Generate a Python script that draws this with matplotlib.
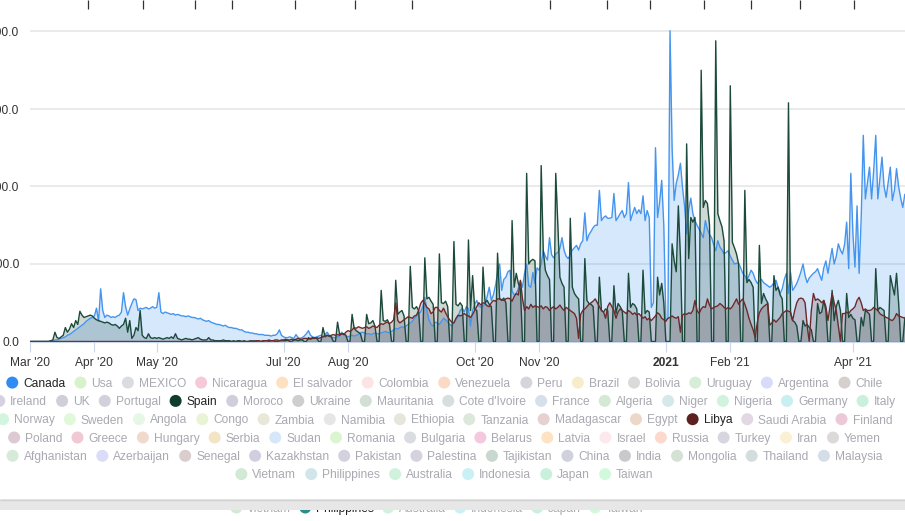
import matplotlib
matplotlib.use("Agg")
import matplotlib.pyplot as plt
import matplotlib.dates as mdates
import pandas as pd
from matplotlib.patches import Circle, Rectangle

plt.rcParams['font.family'] = ['Liberation Sans', 'DejaVu Sans']

# daily values from 2020-03-01, one row per week (Sun..Sat)
start_date = '2020-03-01'

canada_weeks = [
    [0, 0, 0, 0, 0, 0, 0], [0, 0, 0, 1, 1, 2, 2], [3, 4, 5, 6, 8, 9, 11],
    [13, 15, 17, 19, 21, 23, 26], [28, 30, 31, 33, 43, 26, 68], [40, 31, 34, 33, 31, 32, 31],
    [33, 34, 38, 63, 45, 34, 42], [49, 55, 54, 40, 43, 42, 43], [44, 42, 43, 45, 43, 44, 63],
    [38, 36, 38, 37, 36, 35, 36], [34, 35, 34, 33, 33, 32, 33], [32, 31, 31, 30, 29, 30, 28],
    [27, 26, 27, 25, 24, 23, 22], [22, 21, 20, 21, 19, 18, 18], [17, 17, 16, 15, 15, 13, 12],
    [12, 11, 11, 10, 10, 9, 9], [9, 8, 8, 8, 7, 8, 8], [10, 15, 8, 6, 5, 5, 6],
    [5, 4, 9, 5, 4, 5, 7], [10, 14, 8, 6, 5, 6, 7], [8, 6, 9, 12, 8, 6, 5],
    [5, 6, 7, 12, 9, 7, 6], [7, 8, 7, 8, 9, 11, 12], [11, 10, 10, 9, 10, 11, 10],
    [10, 11, 12, 13, 12, 11, 13], [15, 17, 16, 18, 19, 18, 20], [22, 24, 26, 30, 33, 36, 38],
    [45, 57, 40, 28, 22, 20, 25], [24, 22, 26, 30, 28, 25, 22], [20, 24, 28, 32, 40, 43, 38],
    [45, 42, 20, 40, 48, 53, 46], [44, 46, 48, 58, 70, 53, 60], [72, 88, 100, 66, 80, 83, 90],
    [92, 65, 60, 62, 68, 78, 70], [88, 100, 72, 70, 89, 75, 95], [92, 100, 117, 110, 105, 134, 112],
    [108, 113, 115, 120, 134, 118, 110], [107, 112, 118, 121, 124, 118, 126],
    [130, 166, 130, 138, 142, 147, 150], [150, 195, 156, 160, 162, 159, 159],
    [160, 191, 156, 160, 165, 169, 160], [165, 205, 156, 165, 173, 165, 170],
    [165, 188, 156, 169, 160, 44, 50], [250, 160, 180, 208, 150, 27, 30],
    [401, 250, 182, 204, 215, 230, 199], [175, 139, 170, 185, 165, 156, 150],
    [145, 140, 134, 156, 145, 138, 134], [125, 117, 130, 122, 118, 113, 115],
    [117, 110, 105, 100, 101, 101, 95], [88, 85, 79, 85, 92, 88, 80],
    [75, 78, 80, 76, 74, 72, 70], [72, 76, 79, 70, 62, 68, 80], [88, 62, 89, 66, 70, 75, 82],
    [90, 100, 85, 76, 82, 85, 88], [90, 94, 86, 79, 95, 104, 88],
    [105, 120, 100, 110, 126, 118, 113], [125, 154, 94, 217, 140, 96, 175],
    [88, 160, 266, 184, 205, 225, 184], [220, 266, 184, 210, 238, 200, 186],
    [205, 225, 182, 195, 223, 200, 185], [173, 190, 180],
]

spain_weeks = [
    [0, 0, 0, 0, 0, 0, 0], [0, 0, 0, 1, 2, 12, 5], [4, 6, 8, 18, 12, 16, 23],
    [18, 27, 22, 39, 34, 31, 32], [33, 34, 33, 30, 28, 27, 26], [25, 24, 25, 24, 22, 21, 22],
    [20, 17, 20, 22, 30, 12, 27], [4, 8, 18, 14, 40, 8, 5], [4, 10, 5, 4, 5, 4, 5],
    [4, 3, 4, 5, 4, 6, 4], [10, 4, 3, 2, 3, 4, 3], [3, 2, 3, 4, 5, 3, 2],
    [2, 2, 5, 2, 2, 1, 1], [1, 1, 2, 1, 1, 1, 0], [1, 0, 1, 1, 0, 1, 0],
    [0, 1, 0, 1, 0, 1, 0], [0, 1, 1, 0, 1, 1, 0], [0, 1, 1, 1, 1, 2, 0],
    [0, 2, 2, 1, 2, 2, 0], [0, 5, 3, 4, 5, 4, 0], [0, 18, 6, 8, 7, 6, 0],
    [0, 25, 9, 10, 10, 8, 0], [0, 35, 17, 14, 12, 10, 0], [0, 35, 23, 24, 27, 20, 0],
    [0, 66, 27, 26, 28, 22, 0], [0, 79, 35, 38, 40, 33, 0], [0, 97, 44, 42, 45, 40, 0],
    [0, 108, 55, 57, 52, 48, 0], [0, 113, 50, 49, 52, 45, 0], [0, 129, 48, 46, 50, 46, 0],
    [0, 131, 40, 85, 42, 40, 0], [0, 96, 50, 53, 48, 45, 0], [0, 114, 55, 53, 56, 50, 0],
    [0, 156, 70, 88, 75, 68, 0], [0, 217, 100, 104, 106, 104, 0], [0, 227, 117, 92, 85, 80, 0],
    [0, 217, 152, 83, 75, 70, 0], [0, 159, 70, 62, 58, 55, 0], [0, 107, 53, 49, 48, 45, 0],
    [0, 83, 40, 38, 42, 40, 0], [0, 72, 36, 49, 45, 40, 0], [0, 88, 44, 49, 47, 42, 0],
    [0, 92, 36, 40, 38, 0, 0], [0, 83, 60, 75, 50, 0, 0], [0, 126, 104, 90, 175, 110, 0],
    [0, 255, 107, 160, 154, 160, 0], [0, 350, 173, 182, 178, 150, 0],
    [0, 388, 165, 156, 148, 130, 0], [0, 330, 128, 121, 113, 100, 0],
    [0, 195, 76, 80, 76, 70, 0], [0, 124, 49, 62, 55, 50, 0], [0, 85, 66, 70, 60, 55, 0],
    [0, 308, 36, 27, 25, 20, 0], [0, 27, 20, 22, 18, 15, 0], [0, 49, 36, 38, 53, 40, 0],
    [0, 66, 27, 45, 53, 40, 0], [0, 62, 31, 35, 30, 28, 0], [0, 31, 20, 40, 38, 35, 0],
    [0, 94, 40, 44, 42, 40, 0], [0, 85, 72, 60, 88, 50, 0], [0, 30, 35],
]

libya_weeks = [
    [0, 0, 0, 0, 0, 0, 0], [0, 0, 0, 0, 0, 0, 0], [0, 0, 0, 0, 0, 0, 0],
    [0, 0, 0, 0, 0, 0, 0], [0, 0, 0, 0, 0, 0, 0], [0, 0, 0, 0, 0, 0, 0],
    [0, 0, 0, 0, 0, 0, 0], [0, 0, 0, 0, 0, 0, 0], [0, 0, 0, 0, 0, 0, 0],
    [0, 0, 0, 0, 0, 0, 0], [0, 0, 0, 0, 0, 0, 0], [0, 0, 0, 0, 0, 0, 0],
    [0, 0, 0, 0, 0, 0, 0], [0, 0, 0, 0, 0, 0, 0], [0, 0, 0, 0, 0, 0, 0],
    [0, 0, 1, 0, 1, 1, 0], [1, 1, 1, 2, 1, 1, 2], [2, 1, 2, 2, 3, 2, 2],
    [3, 2, 3, 4, 3, 3, 4], [4, 3, 4, 5, 4, 5, 4], [5, 6, 7, 8, 7, 8, 9],
    [8, 9, 8, 10, 9, 12, 14], [13, 15, 18, 17, 19, 18, 17], [18, 19, 17, 18, 20, 19, 18],
    [21, 23, 22, 24, 25, 23, 25], [28, 50, 27, 24, 26, 28, 30], [32, 31, 30, 33, 34, 40, 49],
    [53, 49, 44, 42, 36, 38, 44], [44, 40, 38, 43, 37, 32, 28], [25, 24, 30, 34, 33, 34, 36],
    [34, 33, 31, 35, 40, 45, 50], [47, 50, 49, 46, 45, 50, 53], [52, 55, 55, 54, 53, 55, 56],
    [55, 52, 58, 62, 60, 79, 55], [40, 45, 42, 48, 44, 46, 45], [44, 46, 42, 45, 44, 40, 43],
    [45, 42, 44, 47, 43, 40, 44], [42, 40, 38, 36, 30, 4, 35], [40, 42, 45, 48, 50, 52, 55],
    [50, 45, 40, 38, 30, 45, 50], [45, 40, 30, 38, 42, 40, 38], [36, 40, 38, 35, 37, 34, 36],
    [33, 30, 32, 28, 30, 27, 30], [33, 37, 35, 30, 28, 26, 30], [31, 33, 31, 30, 32, 12, 34],
    [36, 35, 37, 36, 40, 53, 40], [36, 42, 45, 44, 55, 47, 42], [44, 45, 46, 49, 47, 44, 42],
    [44, 42, 45, 50, 55, 48, 52], [55, 48, 40, 30, 22, 15, 5], [25, 37, 42, 45, 47, 49, 21],
    [24, 28, 25, 28, 31, 36, 38], [40, 39, 38, 27, 40, 50, 55], [56, 55, 50, 20, 0, 40, 62],
    [53, 55, 53, 50, 53, 45, 27], [45, 62, 50, 40, 20, 0, 36], [36, 38, 36, 40, 42, 45, 53],
    [57, 50, 40, 42, 40, 40, 41], [44, 42, 40, 36, 34, 33, 31], [30, 28, 27, 30, 36, 33, 32],
    [31, 30, 32],
]

tick_dates = ['2020-03-01', '2020-04-01', '2020-05-01', '2020-07-01', '2020-08-01',
              '2020-10-01', '2020-11-01', '2021-01-01', '2021-02-01', '2021-04-01']
tick_labels = ["Mar '20", "Apr '20", "May '20", "Jul '20", "Aug '20",
               "Oct '20", "Nov '20", "2021", "Feb '21", "Apr '21"]
y_ticks = [0, 100, 200, 300, 400]

legend_rows = [
    ['Canada', 'Usa', 'MEXICO', 'Nicaragua', 'El salvador', 'Colombia', 'Venezuela', 'Peru',
     'Brazil', 'Bolivia', 'Uruguay', 'Argentina', 'Chile'],
    ['Ireland', 'UK', 'Portugal', 'Spain', 'Moroco', 'Ukraine', 'Mauritania', "Cote d'Ivoire",
     'France', 'Algeria', 'Niger', 'Nigeria', 'Germany', 'Italy'],
    ['Norway', 'Sweden', 'Angola', 'Congo', 'Zambia', 'Namibia', 'Ethiopia', 'Tanzania',
     'Madagascar', 'Egypt', 'Libya', 'Saudi Arabia', 'Finland'],
    ['Poland', 'Greece', 'Hungary', 'Serbia', 'Sudan', 'Romania', 'Bulgaria', 'Belarus',
     'Latvia', 'Israel', 'Russia', 'Turkey', 'Iran', 'Yemen'],
    ['Afghanistan', 'Azerbaijan', 'Senegal', 'Kazakhstan', 'Pakistan', 'Palestina',
     'Tajikistan', 'China', 'India', 'Mongolia', 'Thailand', 'Malaysia'],
    ['Vietnam', 'Philippines', 'Australia', 'Indonesia', 'Japan', 'Taiwan'],
]
ghost_row = ['Vietnam', 'Philippines', 'Australia', 'Indonesia', 'Japan', 'Taiwan']

series_colors = {'Canada': '#2f8cf2', 'Spain': '#0e3d2e', 'Libya': '#5c2020'}
line_colors = {'Canada': '#4595ee', 'Spain': '#1b4a3b', 'Libya': '#6c2b2b'}
swatch = {
    'Usa': '#d8f2cc', 'MEXICO': '#d9dde2', 'Nicaragua': '#f6c9d8', 'El salvador': '#fde1c0',
    'Colombia': '#fbe4e4', 'Venezuela': '#fcd9c5', 'Peru': '#d7d4de', 'Brazil': '#f8edcb',
    'Bolivia': '#dcd9da', 'Uruguay': '#d6eed5', 'Argentina': '#dadafb', 'Chile': '#d7cece',
    'Ireland': '#d4d1e1', 'UK': '#d0ced9', 'Portugal': '#d3d0dc', 'Moroco': '#d0ceda',
    'Ukraine': '#cecece', 'Mauritania': '#d3dfd6', "Cote d'Ivoire": '#d6dfde', 'France': '#d6e0eb',
    'Algeria': '#d3e9d3', 'Niger': '#d5e8ea', 'Nigeria': '#d1f3dd', 'Germany': '#c9f0f0',
    'Italy': '#c9f0dd', 'Norway': '#d1f5dd', 'Sweden': '#e0f9d9', 'Angola': '#e6f7e6',
    'Congo': '#e9f3d6', 'Zambia': '#e8e8d9', 'Namibia': '#e6e6e6', 'Ethiopia': '#e6e6dd',
    'Tanzania': '#dde8dd', 'Madagascar': '#e6d0d0', 'Egypt': '#ecd7c9', 'Saudi Arabia': '#e3d7e3',
    'Finland': '#ecc9d7', 'Poland': '#dcc9d3', 'Greece': '#f0c9d3', 'Hungary': '#f0d9cd',
    'Serbia': '#f3e4c4', 'Sudan': '#d6e7fa', 'Romania': '#dcf5d1', 'Bulgaria': '#d9dde1',
    'Belarus': '#f5c9dd', 'Latvia': '#fde3c4', 'Israel': '#fde9ed', 'Russia': '#fcd9cd',
    'Turkey': '#d7d5df', 'Iran': '#faf0d3', 'Yemen': '#ddd9d9', 'Afghanistan': '#d6ead8',
    'Azerbaijan': '#dbdbfa', 'Senegal': '#d9cdcd', 'Kazakhstan': '#d1cee1', 'Pakistan': '#d3d1dd',
    'Palestina': '#d5d1dd', 'Tajikistan': '#c9d7d1', 'China': '#d1d1dd', 'India': '#c9c9cd',
    'Mongolia': '#d5e1d5', 'Thailand': '#d3dddd', 'Malaysia': '#d5dde9', 'Vietnam': '#d1e9d5',
    'Philippines': '#d0e6e9', 'Australia': '#d0f2dd', 'Indonesia': '#c9f0f5', 'Japan': '#c9f0dd',
    'Taiwan': '#d1fadd',
}

canada = [v for w in canada_weeks for v in w]
spain = [v for w in spain_weeks for v in w]
libya = [v for w in libya_weeks for v in w]

W, H = 905, 521
fig = plt.figure(figsize=(W / 100, H / 100), dpi=100)

x_left = 30          # plot left edge, px
y_zero = 341.5       # zero line, px from top
px_per_day = 2.078
px_per_unit = 0.775

ax = fig.add_axes([x_left / W, (H - y_zero) / H, (W - x_left) / W, y_zero / H])

t0 = mdates.date2num(pd.Timestamp(start_date).to_pydatetime())
for name, vals in [('Canada', canada), ('Spain', spain), ('Libya', libya)]:
    xs = mdates.date2num(pd.date_range(start_date, periods=len(vals)).to_pydatetime())
    ax.fill_between(xs, vals, 0, color=series_colors[name], alpha=0.2, lw=0)
    ax.plot(xs, vals, color=line_colors[name], lw=1.0)

ax.set_xlim(t0, t0 + (W - x_left) / px_per_day)
ax.set_ylim(0, y_zero / px_per_unit)

ax.set_yticks(y_ticks)
ax.set_yticklabels([f'{v:.1f}' for v in y_ticks])
ax.yaxis.grid(True, color='#e6e6e6', lw=1.2)
ax.set_axisbelow(True)
ax.tick_params(axis='y', length=0, pad=7.9, labelsize=8.64, labelcolor='#333333')

ax.set_xticks(mdates.date2num(pd.to_datetime(tick_dates).to_pydatetime()))
ax.set_xticklabels(tick_labels)
ax.tick_params(axis='x', length=7.2, width=0.8, color='#ccd6eb', labelsize=8.64,
               labelcolor='#333333', pad=4)
for lab in ax.get_xticklabels():
    if lab.get_text() == '2021':
        lab.set_fontweight('bold')

for side in ['top', 'right', 'left']:
    ax.spines[side].set_visible(False)
ax.spines['bottom'].set_color('#ccd6eb')
ax.spines['bottom'].set_linewidth(0.8)
ax.patch.set_alpha(0)

# overlay in pixel coordinates for legend and page furniture
ov = fig.add_axes([0, 0, 1, 1])
ov.set_xlim(0, W)
ov.set_ylim(H, 0)
ov.axis('off')
ov.patch.set_alpha(0)

# tick marks of the chart above, cut by the crop
top_tick_px = [88, 143, 195, 232, 295, 355, 412, 550, 607, 650, 704, 751, 800, 854]
ov.vlines(top_tick_px, 0, 9, color='#333333', lw=0.9)

renderer = fig.canvas.get_renderer()
LEG_FS = 8.64


def text_width(s):
    t = ov.text(0, 0, s, fontsize=LEG_FS)
    w = t.get_window_extent(renderer=renderer).width
    t.remove()
    return w


def draw_row(names, yc, center, gap=9, lit=(), z=3):
    widths = [text_width(n) for n in names]
    total = sum(17 + w for w in widths) + gap * (len(names) - 1)
    x = center - total / 2
    for n, w in zip(names, widths):
        if n in lit:
            col, tcol = lit[n], '#222222'
        else:
            col, tcol = swatch.get(n, '#dddddd'), '#a9a9b2'
        ov.add_patch(Circle((x + 6, yc), 6, color=col, lw=0, zorder=z))
        ov.text(x + 17, yc + 4.3, n, fontsize=LEG_FS, color=tcol, va='baseline',
                ha='left', zorder=z)
        x += 17 + w + gap


row_y = [382.6, 400.9, 419.2, 437.5, 455.8, 474.1]
for names, yc in zip(legend_rows, row_y):
    draw_row(names, yc, 444.5, lit=series_colors)

# strip of the next panel peeking in at the bottom
draw_row(ghost_row, 507.5, 437, gap=8, lit={'Philippines': '#2a8f8b'}, z=2)
ov.add_patch(Rectangle((0, 499), W, 10.5, color='#e7e7e7', lw=0, zorder=5))
ov.hlines(499.5, 0, W, color='#d2d2d2', lw=1.0, zorder=6)

fig.savefig('out.png', dpi=100)
